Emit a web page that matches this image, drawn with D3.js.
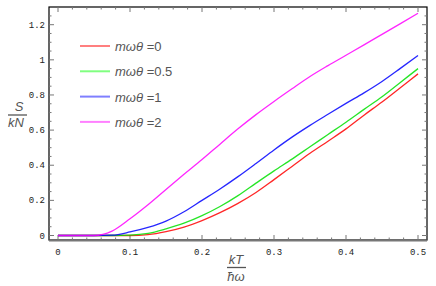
<!DOCTYPE html>
<html>
<head>
<meta charset="utf-8">
<script src="https://cdn.jsdelivr.net/npm/d3@7"></script>
<style>
  body { margin: 0; background: #fff; }
  svg { display: block; }
</style>
</head>
<body>
<div id="chart"></div>
<script>
// x values kT / hbar omega
const temps = [0, 0.025, 0.05, 0.075, 0.1, 0.125, 0.15, 0.175, 0.2, 0.225, 0.25,
  0.275, 0.3, 0.325, 0.35, 0.375, 0.4, 0.425, 0.45, 0.475, 0.5]

// S / kN for each m omega theta
const s0 = [0, 0, 0, 0, 0, 0.005, 0.022, 0.048, 0.085, 0.13, 0.183,
  0.245, 0.318, 0.393, 0.468, 0.537, 0.607, 0.685, 0.76, 0.84, 0.92]
const s05 = [0, 0, 0, 0, 0.002, 0.012, 0.038, 0.07, 0.113, 0.165, 0.227,
  0.298, 0.368, 0.435, 0.505, 0.575, 0.645, 0.718, 0.79, 0.87, 0.95]
const s1 = [0, 0, 0, 0.002, 0.02, 0.046, 0.082, 0.135, 0.2, 0.265, 0.335,
  0.41, 0.487, 0.56, 0.627, 0.69, 0.752, 0.812, 0.877, 0.95, 1.025]
const s2 = [0, 0, 0, 0.025, 0.095, 0.175, 0.262, 0.348, 0.432, 0.52, 0.607,
  0.688, 0.763, 0.835, 0.905, 0.967, 1.026, 1.085, 1.145, 1.205, 1.265]

const legendLabels = ["0", "0.5", "1", "2"]
const xTicks = [0, 0.1, 0.2, 0.3, 0.4, 0.5]
const yTicks = [0, 0.2, 0.4, 0.6, 0.8, 1, 1.2]

const series = [
  { vals: s0, color: "#ff0000", light: "#ff7f7f" },
  { vals: s05, color: "#00e000", light: "#80ff80" },
  { vals: s1, color: "#0000ff", light: "#7f7fff" },
  { vals: s2, color: "#ff00ff", light: "#ff80ff" }
]

const W = 436, H = 286
const frame = { left: 49, right: 427, top: 7, bottom: 240 }

const x = d3.scaleLinear().domain([0, 0.5]).range([58, 418])
const y = d3.scaleLinear().domain([0, 1.2]).range([235.5, 24.7])

const svg = d3.select("#chart").append("svg")
  .attr("width", W).attr("height", H)

// frame
svg.append("rect")
  .attr("x", frame.left).attr("y", frame.top)
  .attr("width", frame.right - frame.left)
  .attr("height", frame.bottom - frame.top)
  .attr("fill", "none").attr("stroke", "#000").attr("stroke-width", 1.2)

const tickG = svg.append("g").attr("stroke", "#777").attr("stroke-width", 1)

// x ticks (bottom + top), minor every 0.02
const xMinor = d3.range(0, 0.5001, 0.02).filter(v => Math.abs(v * 10 - Math.round(v * 10)) > 1e-6)
xTicks.forEach(v => {
  tickG.append("line").attr("x1", x(v)).attr("x2", x(v)).attr("y1", frame.bottom).attr("y2", frame.bottom - 5)
  tickG.append("line").attr("x1", x(v)).attr("x2", x(v)).attr("y1", frame.top).attr("y2", frame.top + 5)
})
xMinor.forEach(v => {
  tickG.append("line").attr("x1", x(v)).attr("x2", x(v)).attr("y1", frame.bottom).attr("y2", frame.bottom - 2.5)
  tickG.append("line").attr("x1", x(v)).attr("x2", x(v)).attr("y1", frame.top).attr("y2", frame.top + 2.5)
})

// y ticks (left + right), minor every 0.05
const yMinor = d3.range(0, 1.3, 0.05).filter(v => Math.abs(v * 5 - Math.round(v * 5)) > 1e-6)
yTicks.forEach(v => {
  tickG.append("line").attr("x1", frame.left).attr("x2", frame.left + 5).attr("y1", y(v)).attr("y2", y(v))
  tickG.append("line").attr("x1", frame.right).attr("x2", frame.right - 5).attr("y1", y(v)).attr("y2", y(v))
})
yMinor.forEach(v => {
  tickG.append("line").attr("x1", frame.left).attr("x2", frame.left + 2.5).attr("y1", y(v)).attr("y2", y(v))
  tickG.append("line").attr("x1", frame.right).attr("x2", frame.right - 2.5).attr("y1", y(v)).attr("y2", y(v))
})

// bottom edge looks heavier in the picture
svg.append("line")
  .attr("x1", frame.left).attr("x2", frame.right)
  .attr("y1", frame.bottom + 0.5).attr("y2", frame.bottom + 0.5)
  .attr("stroke", "#777").attr("stroke-width", 2)

// tick labels
svg.selectAll(".xl").data(xTicks).enter().append("text")
  .attr("x", d => x(d)).attr("y", 255)
  .attr("text-anchor", "middle")
  .style("font-family", "Liberation Mono, monospace").style("font-size", "9px")
  .attr("fill", "#222")
  .text(d => d)

svg.selectAll(".yl").data(yTicks).enter().append("text")
  .attr("x", 45).attr("y", d => y(d) + 3)
  .attr("text-anchor", "end")
  .style("font-family", "Liberation Mono, monospace").style("font-size", "9px")
  .attr("fill", "#222")
  .text(d => d)

// curves
const line = d3.line()
  .x((d, i) => x(temps[i]))
  .y(d => y(d))
  .curve(d3.curveMonotoneX)

series.forEach(s => {
  svg.append("path")
    .attr("d", line(s.vals))
    .attr("fill", "none")
    .attr("stroke", s.color)
    .attr("stroke-width", 1.3)
    .attr("stroke-opacity", 0.85)
})

// legend
const leg = svg.append("g").style("font-family", "Liberation Sans, Arial, sans-serif")
series.forEach((s, i) => {
  const ly = 46 + i * 25.3
  leg.append("line").attr("x1", 80).attr("x2", 110).attr("y1", ly).attr("y2", ly)
    .attr("stroke", s.light).attr("stroke-width", 2)
  const t = leg.append("text").attr("x", 115).attr("y", ly + 5)
    .style("font-size", "13px").attr("fill", "#555")
  t.append("tspan").style("font-style", "italic").text("mωθ")
  t.append("tspan").text(" =" + legendLabels[i])
})

// axis labels as fractions
const lab = svg.append("g").style("font-family", "Liberation Sans, Arial, sans-serif")
  .style("font-style", "italic").attr("fill", "#555").style("font-size", "13px")
lab.append("text").attr("x", 19).attr("y", 111).attr("text-anchor", "middle").text("S")
lab.append("line").attr("x1", 8).attr("x2", 27).attr("y1", 115).attr("y2", 115)
  .attr("stroke", "#555").attr("stroke-width", 1.3)
lab.append("text").attr("x", 16).attr("y", 127).attr("text-anchor", "middle").text("kN")

lab.append("text").attr("x", 236).attr("y", 264).attr("text-anchor", "middle").text("kT")
lab.append("line").attr("x1", 227).attr("x2", 246).attr("y1", 267.5).attr("y2", 267.5)
  .attr("stroke", "#555").attr("stroke-width", 1.3)
lab.append("text").attr("x", 236).attr("y", 281).attr("text-anchor", "middle").text("ħω")
</script>
</body>
</html>
